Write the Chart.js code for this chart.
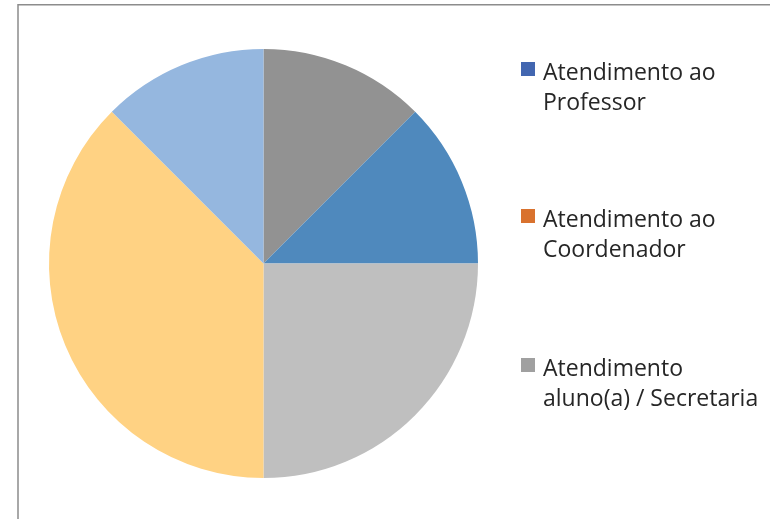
<!DOCTYPE html>
<html>
<head>
<meta charset="utf-8">
<script src="https://cdn.jsdelivr.net/npm/chart.js@4/dist/chart.umd.min.js"></script>
<style>
  html, body { margin: 0; padding: 0; background: #ffffff; }
  #wrap { position: relative; width: 770px; height: 519px; }
</style>
</head>
<body>
<div id="wrap"><canvas id="pie_chart" width="770" height="519"></canvas></div>
<script>
// slices, clockwise from 12 o'clock
let sliceLabels = ['Atendimento aluno(a) / Secretaria', 'Atendimento ao Professor', 'Atendimento ao Coordenador', 'Outros', 'Atendimento em grupo'];
let sliceValues = [1, 1, 2, 3, 1];
let sliceColors = ['#929292', '#4f89bd', '#bfbfbf', '#ffd283', '#95b7df'];

// legend entries (each line drawn separately)
let legendLines = [['Atendimento ao', 'Professor'], ['Atendimento ao', 'Coordenador'], ['Atendimento', 'aluno(a) / Secretaria']];
let legendColors = ['#4266b0', '#d9722e', '#a0a0a0'];
let legendTops = [62, 209, 358];

// frame around the plot area
const framePlugin = {
  id: 'frame',
  beforeDraw: function(chart) {
    let ctx = chart.ctx;
    ctx.save();
    ctx.strokeStyle = '#8c8c8c';
    ctx.lineWidth = 1.5;
    ctx.beginPath();
    ctx.moveTo(18, chart.height + 2);
    ctx.lineTo(18, 4.75);
    ctx.lineTo(chart.width + 2, 4.75);
    ctx.stroke();
    ctx.restore();
  }
};

const sideLegend = {
  id: 'sideLegend',
  afterDraw: function(chart) {
    let ctx = chart.ctx;
    ctx.save();
    ctx.font = '23px "Open Sans", sans-serif';
    ctx.textBaseline = 'alphabetic';
    legendLines.forEach(function(lines, i) {
      let top = legendTops[i];
      ctx.fillStyle = legendColors[i];
      ctx.fillRect(521, top, 14, 14);
      ctx.fillStyle = '#262626';
      lines.forEach(function(line, j) {
        ctx.fillText(line, 543, top + 17.5 + j * 30.8);
      });
    });
    ctx.restore();
  }
};

let config = {
  type: 'pie',
  data: {
    labels: sliceLabels,
    datasets: [{
      data: sliceValues,
      backgroundColor: sliceColors,
      borderWidth: 0
    }]
  },
  options: {
    responsive: false,
    animation: false,
    layout: {
      padding: {left: 49, top: 49, right: 292, bottom: 41}
    },
    plugins: {
      legend: { display: false },
      tooltip: { enabled: false },
      title: { display: false }
    }
  },
  plugins: [framePlugin, sideLegend]
};

var pie_chart = new Chart(document.getElementById('pie_chart'), config);
</script>
</body>
</html>
